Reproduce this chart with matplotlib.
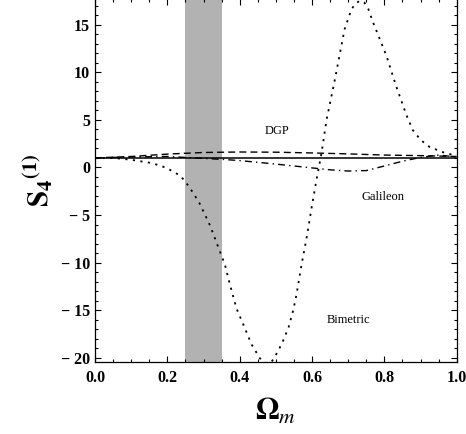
import matplotlib
matplotlib.use("Agg")
import matplotlib.pyplot as plt
from matplotlib.ticker import MultipleLocator, FuncFormatter

plt.rcParams["mathtext.fontset"] = "stix"

# values
om_lcdm = [0.0, 1.0]
s4_lcdm = [1.0, 1.0]

om_dgp = [0.0, 0.1, 0.2, 0.3, 0.4, 0.5, 0.6, 0.7, 0.8, 0.9, 1.0]
s4_dgp = [1.0, 1.15, 1.4, 1.57, 1.62, 1.6, 1.52, 1.42, 1.3, 1.24, 1.15]

om_gal = [0.0, 0.1, 0.2, 0.25, 0.3, 0.35, 0.4, 0.5, 0.6, 0.65, 0.7, 0.75, 0.8, 0.85, 0.9, 0.95, 1.0]
s4_gal = [1.0, 1.1, 1.15, 1.05, 0.95, 0.85, 0.72, 0.35, -0.05, -0.25, -0.38, -0.33, 0.15, 0.65, 1.05, 1.3, 1.1]

om_bim = [0.0, 0.05, 0.1, 0.15, 0.18, 0.2, 0.235, 0.25, 0.27, 0.29, 0.318, 0.345,
          0.359, 0.373, 0.391, 0.41, 0.433, 0.456, 0.466, 0.478, 0.49, 0.506, 0.52,
          0.535, 0.548, 0.557, 0.571, 0.585, 0.599, 0.612, 0.626, 0.64, 0.663, 0.69,
          0.709, 0.72, 0.732, 0.745, 0.756, 0.769, 0.785, 0.806, 0.833, 0.861, 0.879,
          0.9, 0.925, 0.962, 1.0]
s4_bim = [1.0, 1.0, 0.8, 0.5, 0.2, -0.1, -0.85, -1.5, -2.6, -3.84, -6.1, -8.8,
          -10.2, -12.3, -14.8, -16.5, -18.6, -20.05, -20.45, -20.6, -20.3, -19.3, -18.2,
          -16.8, -15.0, -13.35, -10.2, -7.4, -4.2, -1.37, 1.45, 4.97, 9.2, 14.5,
          16.6, 17.2, 17.5, 17.3, 16.6, 15.2, 13.7, 11.7, 8.5, 5.5, 3.9,
          2.9, 2.15, 1.6, 1.2]

band = (0.25, 0.35)

fig = plt.figure(figsize=(4.66, 4.34), dpi=100)
ax = fig.add_axes([0.204, 0.1666, 0.776, 0.836])

ax.axvspan(band[0], band[1], color="#b2b2b2", lw=0, zorder=0)
ax.plot(om_lcdm, s4_lcdm, color="black", lw=1.1)
ax.plot(om_dgp, s4_dgp, color="black", lw=1.0, ls=(0, (5, 3)))
ax.plot(om_gal, s4_gal, color="black", lw=1.0, ls=(0, (5, 3, 1, 3)))
ax.plot(om_bim, s4_bim, color="black", lw=1.3, ls=(0, (1.2, 3.0)))

ax.set_xlim(0, 1)
ax.set_ylim(-20.4, 17.7)

ax.xaxis.set_major_locator(MultipleLocator(0.2))
ax.xaxis.set_minor_locator(MultipleLocator(0.05))
ax.yaxis.set_major_locator(MultipleLocator(5))
ax.yaxis.set_minor_locator(MultipleLocator(1))

def yfmt(v, pos):
    v = int(round(v))
    return "\u2212 %d" % -v if v < 0 else "%d" % v

ax.yaxis.set_major_formatter(FuncFormatter(yfmt))
ax.xaxis.set_major_formatter(FuncFormatter(lambda v, p: "%.1f" % v))

ax.tick_params(which="both", direction="in", top=True, right=True, width=0.8)
ax.tick_params(which="major", length=4)
ax.tick_params(which="minor", length=2.2)
ax.tick_params(axis="x", pad=6)
ax.tick_params(axis="y", pad=3.5)
for lab in ax.get_xticklabels() + ax.get_yticklabels():
    lab.set_family("Liberation Serif")
    lab.set_fontweight("bold")
    lab.set_fontsize(11.5)
for sp in ax.spines.values():
    sp.set_linewidth(0.9)

ax.set_xlabel(r"$\mathbf{\Omega}_{m}$", fontsize=22, labelpad=7)
ax.set_ylabel(r"$\mathbf{S_4}^{\mathbf{(1)}}$", fontsize=21, labelpad=4)

ax.text(0.502, 3.84, "DGP", family="Liberation Serif", fontsize=9, ha="center", va="center")
ax.text(0.796, -3.1, "Galileon", family="Liberation Serif", fontsize=9, ha="center", va="center")
ax.text(0.70, -16.0, "Bimetric", family="Liberation Serif", fontsize=9, ha="center", va="center")

fig.savefig("out.png", dpi=100)
